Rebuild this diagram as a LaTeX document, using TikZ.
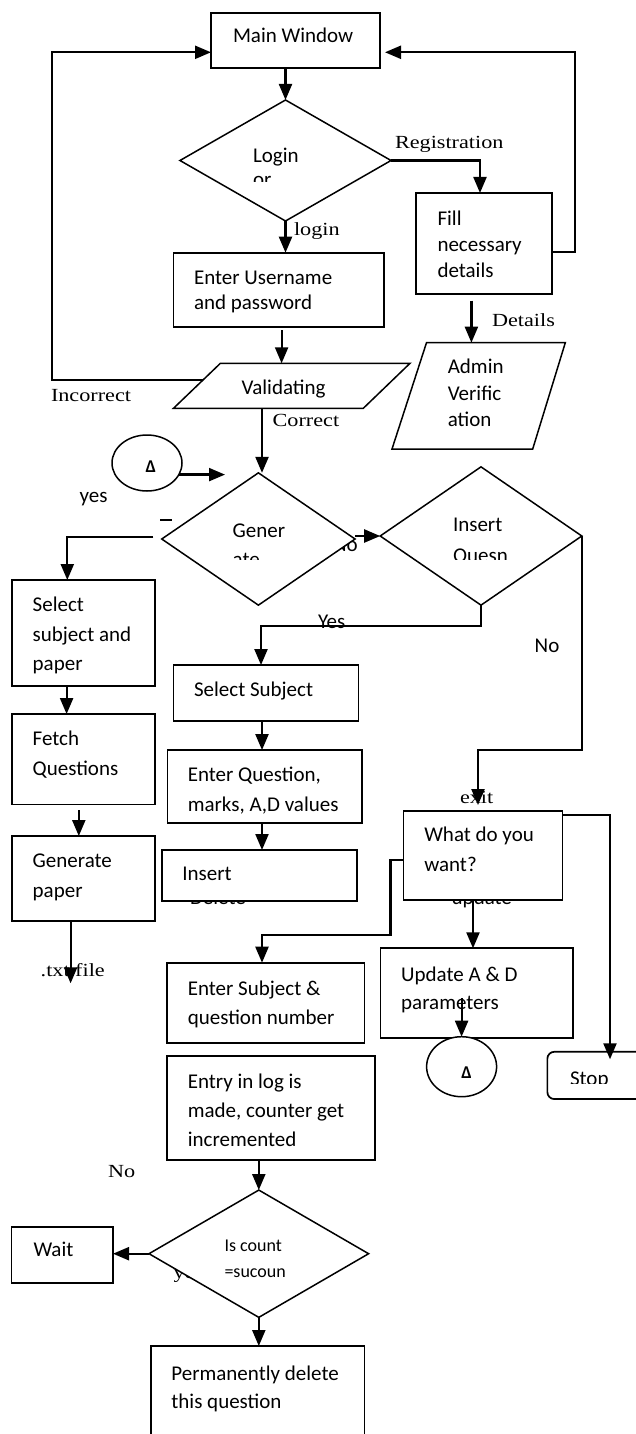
\documentclass[tikz,border=0pt]{standalone}
\usepackage{fontspec}
\setmainfont{Carlito}
\newfontfamily\serifl[FakeStretch=1.2]{Liberation Serif}
\usetikzlibrary{shapes.geometric,arrows.meta,calc}
\tikzset{
  box/.style={draw, line width=1.7pt, fill=white, inner sep=0pt, outer sep=0pt},
  dia/.style={diamond, draw, line width=1.5pt, fill=white, inner sep=0pt, outer sep=0pt},
  oval/.style={ellipse, draw, line width=1.5pt, fill=white, inner sep=0pt, outer sep=0pt},
  para/.style={draw, line width=1.5pt, fill=white},
  arr/.style={line width=2.2pt, -{Triangle[length=16pt,width=13pt]}},
  txt/.style={anchor=base west, inner sep=0pt, outer sep=0pt, font=\fontsize{21}{25}\selectfont},
  smtxt/.style={anchor=base west, inner sep=0pt, outer sep=0pt, font=\fontsize{18}{22}\selectfont},
  stxt/.style={anchor=base west, inner sep=0pt, outer sep=0pt, font=\serifl\fontsize{18.5}{22}\selectfont},
  deltxt/.style={anchor=base, inner sep=0pt, outer sep=0pt, font=\bfseries\fontsize{18}{20}\selectfont},
}
\begin{document}
\begin{tikzpicture}[x=1pt,y=-1pt]
\useasboundingbox (0,0) rectangle (636,1434);
\fill[white] (0,0) rectangle (636,1434);

% labels partly hidden behind shapes
\node[txt] (lNoG) at (333,551.7) {No};
\node[txt] (lDel) at (190,904) {Delete};
\node[txt] (lUpd) at (451.7,904) {update};
\node[stxt] (lyes2) at (173.5,1278) {yes};

% boxes
\node[box, minimum width=169pt, minimum height=55.6pt] (main) at (295.5,40.5) {};
\node[box, minimum width=136pt, minimum height=101pt] (fill) at (484,243.5) {};
\node[box, minimum width=210.2pt, minimum height=74pt] (user) at (278.6,289.7) {};
\node[box, minimum width=142.8pt, minimum height=106pt] (selpap) at (83.6,633) {};
\node[box, minimum width=184.9pt, minimum height=55.7pt] (selsub) at (266,692.9) {};
\node[box, minimum width=142.8pt, minimum height=90.3pt] (fetch) at (83.6,759.2) {};
\node[box, minimum width=142.8pt, minimum height=84.7pt] (genp) at (83.6,878.4) {};
\node[box, minimum width=194.7pt, minimum height=72.7pt] (entq) at (264.7,786.4) {};
\node[box, minimum width=195pt, minimum height=51pt] (ins) at (259.5,875.5) {};
\node[box, minimum width=159pt, minimum height=89.3pt] (what) at (483,855.4) {};
\node[box, minimum width=197.2pt, minimum height=80pt] (entsub) at (265.9,1002.7) {};
\node[box, minimum width=192.6pt, minimum height=90pt] (upd) at (476.7,993.3) {};
\node[box, rounded corners=7pt, minimum width=97.7pt, minimum height=47.3pt] (stop) at (596.2,1075.4) {};
\node[box, minimum width=207.4pt, minimum height=104pt] (entry) at (271,1108) {};
\node[box, minimum width=101.6pt, minimum height=56pt] (wait) at (62.2,1254.7) {};
\node[box, minimum width=213.5pt, minimum height=91pt] (perm) at (257.75,1391.5) {};

% diamonds
\node[dia, minimum width=211pt, minimum height=121pt] (login) at (285.5,160.5) {};
\node[dia, minimum width=193.3pt, minimum height=132.3pt] (gener) at (258.4,539) {};
\node[dia, minimum width=201.6pt, minimum height=138.3pt] (insq) at (481,536) {};
\node[dia, minimum width=219.6pt, minimum height=127.3pt] (iscount) at (258.8,1253.7) {};

% connectors (circles)
\node[oval, minimum width=70pt, minimum height=56pt] (A1) at (147,463) {};
\node[oval, minimum width=70pt, minimum height=60pt] (A2) at (461.6,1066.7) {};
\node[deltxt] (d1) at (150.8,472.7) {Δ};
\node[deltxt] (d2) at (466.5,1078.3) {Δ};

% parallelograms
\draw[para] (220.4,363.3) -- (410,363.3) -- (363.3,408.3) -- (173.5,408.3) -- cycle;
\draw[para] (426.5,342.7) -- (565.3,342.7) -- (532.7,449) -- (392,449) -- cycle;
\coordinate (valL) at (203,380);
\coordinate (valT) at (281.6,363.3);
\coordinate (valB) at (262,408.3);
\coordinate (admT) at (471.4,342.7);
\coordinate (a1tip) at (225,475);
\coordinate (txtend) at (70.6,983.3);
\coordinate (stopin) at (610,1059.3);

% texts inside shapes
\node[txt] (tMain) at (233,43) {Main Window};
\node[txt] (tLogin) at (253,162.7) {Login};
\begin{scope}
\clip (240,150) rectangle (330,181.8);
\node[txt] (tOr) at (253,186.5) {or};
\end{scope}
\node[txt] (tFill1) at (437.5,225) {Fill};
\node[txt] (tFill2) at (437.5,251) {necessary};
\node[txt] (tFill3) at (437.5,277) {details};
\node[txt] (tUser1) at (194,284) {Enter Username};
\node[txt] (tUser2) at (194,309) {and password};
\node[txt] (tVal) at (241.6,394) {Validating};
\node[txt] (tAdm1) at (447.8,373.3) {Admin};
\node[txt] (tAdm2) at (447.8,400) {Verific};
\node[txt] (tAdm3) at (447.8,426) {ation};
\node[txt] (tGen1) at (232.7,537.3) {Gener};
\node[txt] (tIns1) at (453,531.7) {Insert};
\begin{scope}
\clip (220,540) rectangle (560,559.5);
\node[txt] (tGen2) at (232.7,566) {ate};
\node[txt] (tIns2) at (453,562.8) {Quesn};
\end{scope}
\node[txt] (tSp1) at (32.7,611.7) {Select};
\node[txt] (tSp2) at (32.7,641) {subject and};
\node[txt] (tSp3) at (32.7,670.7) {paper};
\node[txt] (tSs) at (194,696.7) {Select Subject};
\node[txt] (tF1) at (32.7,745) {Fetch};
\node[txt] (tF2) at (32.7,775.7) {Questions};
\node[txt] (tG1) at (32.7,867.7) {Generate};
\node[txt] (tG2) at (32.7,897.3) {paper};
\node[txt] (tEq1) at (187.8,781.7) {Enter Question,};
\node[txt] (tEq2) at (187.8,811) {marks, A,D values};
\node[txt] (tIns) at (182.3,880.7) {Insert};
\node[txt] (tWh1) at (424.3,841) {What do you};
\node[txt] (tWh2) at (424.3,871.7) {want?};
\node[txt] (tEs1) at (187.8,995) {Enter Subject \&};
\node[txt] (tEs2) at (187.8,1024.3) {question number};
\node[txt] (tUp1) at (401.2,981) {Update A \& D};
\node[txt] (tUp2) at (401.2,1009.3) {parameters};
\begin{scope}
\clip (555,1060) rectangle (630,1083.3);
\node[txt] (tStop) at (570,1085.2) {Stop};
\end{scope}
\node[txt] (tEn1) at (187.8,1088.3) {Entry in log is};
\node[txt] (tEn2) at (187.8,1117.7) {made, counter get};
\node[txt] (tEn3) at (187.8,1146.7) {incremented};
\node[txt] (tWait) at (33.5,1256.7) {Wait};
\node[smtxt] (tIc1) at (224.5,1251) {Is count};
\node[smtxt] (tIc2) at (224.5,1277.3) {=sucoun};
\node[txt] (tP1) at (171.4,1380) {Permanently delete};
\node[txt] (tP2) at (171.4,1408.3) {this question};

% connector labels
\node[stxt] (lReg) at (395,148.3) {Registration};
\node[stxt] (lLogin) at (294,235) {login};
\node[stxt] (lDet) at (492,326.7) {Details};
\node[stxt] (lInc) at (51,401.7) {Incorrect};
\node[stxt] (lCor) at (272.6,426.7) {Correct};
\node[txt] (lyes) at (79.6,502.7) {yes};
\node[txt] (lYes) at (318,628.3) {Yes};
\node[txt] (lNo2) at (534.7,652.7) {No};
\node[stxt] (lExit) at (460,803.3) {exit};
\node[stxt] (lTxt) at (40.7,976.7) {.txt file};
\node[stxt] (lNo3) at (108,1177.3) {No};
\draw[line width=1.5pt] (160,520) -- (171.7,520);

% connectors
\draw[arr] (login.north |- main.south) -- (login.north);
\draw[arr] (valL) -- ++(-151,0) |- ([yshift=-11.8pt]main.west);
\draw[arr] ([yshift=-8.2pt]fill.east) -- ++(23,0) |- ([xshift=5pt,yshift=-11.8pt]main.east);
\draw[arr] (login.east) -| ([xshift=-4pt]fill.north);
\draw[arr] (login.south) -- (login.south |- user.north);
\draw[arr] ([yshift=-3.3pt]valT |- user.south) -- (valT);
\draw[arr] ([yshift=-6.7pt]admT |- fill.south) -- (admT);
\draw[arr] (valB) -- (valB |- gener.north);
\draw[arr] (A1.-20) -- (A1.-20 -| a1tip);
\draw[arr] ([xshift=-8.4pt,yshift=2.3pt]gener.west) -| ([xshift=-16.3pt]selpap.north);
\draw[arr] (gener.east |- insq.west) -- (insq.west);
\draw[arr] (insq.south) -- ++(0,20.7) -| ([xshift=-5pt]selsub.north);
\draw[arr] (insq.east) -- ++(0,214) -| ([xshift=-5pt,yshift=5.7pt]what.north);
\draw[arr] ([xshift=-17pt]selpap.south) -- ([xshift=-17pt]fetch.north);
\draw[arr] ([xshift=-4.8pt,yshift=-5.7pt]fetch.south) -- ([xshift=-4.8pt]genp.north);
\draw[arr] (txtend |- genp.south) -- (txtend);
\draw[arr] ([xshift=-4pt]selsub.south) -- ([xshift=-4pt]selsub.south |- entq.north);
\draw[arr] ([xshift=-2.7pt]entq.south) -- ([xshift=-2.7pt]entq.south |- ins.north);
\draw[arr] ([yshift=-4.3pt]what.north east) -| (stopin);
\draw[arr] ([yshift=-4.6pt]what.west) -- ++(-13,0) -- ++(0,75) -| ([xshift=-3.9pt]entsub.north);
\draw[arr] ([xshift=-10pt]what.south) -- ([xshift=-10pt]what.south |- upd.north);
\draw[arr] ([yshift=38.4pt]A2.north) -- (A2.north);
\draw[arr] (iscount.north |- entry.south) -- (iscount.north);
\draw[arr] (iscount.west) -- (iscount.west -| wait.east);
\draw[arr] (iscount.south) -- (iscount.south |- perm.north);
\end{tikzpicture}
\end{document}
